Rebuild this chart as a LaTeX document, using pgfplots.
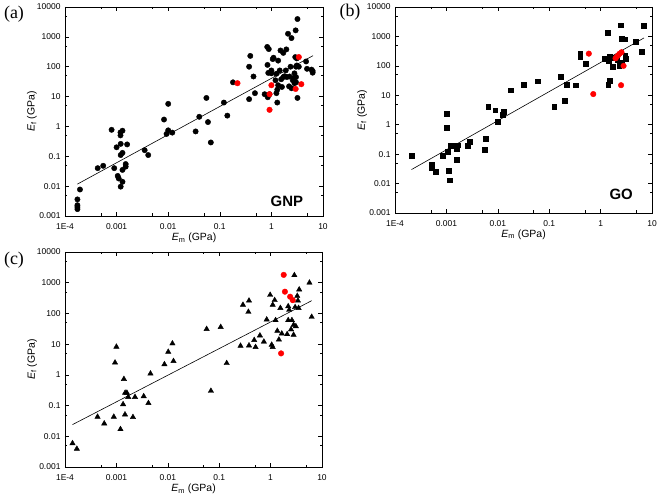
\documentclass[border=0pt]{standalone}
\usepackage{pgfplots}
\pgfplotsset{compat=1.18}
\usepackage{fontspec}
\setmainfont{Liberation Sans}
\newfontfamily\seriffont{Liberation Serif}
\pgfplotsset{
  mypanelstyle/.style={
    scale only axis,
    anchor=south west,
    xmin=1e-4, xmax=10, ymin=1e-3, ymax=1e4,
    xtick={1e-4,1e-3,1e-2,1e-1,1,10},
    xticklabels={1E-4,0.001,0.01,0.1,1,10},
    ytick={1e-3,1e-2,1e-1,1,10,100,1000,10000},
    yticklabels={0.001,0.01,0.1,1,10,100,1000,10000},
    minor xtick={5e-4,5e-3,5e-2,5e-1,5},
    minor ytick={5e-3,5e-2,5e-1,5,50,500,5000},
    tick align=inside, tick pos=both,
    major tick length=4bp, minor tick length=2.5bp,
    every tick/.style={black, line width=0.5pt},
    axis line style={line width=0.6pt},
    tick label style={font=\fontsize{8.5}{9}\selectfont},
    label style={font=\fontsize{10.5}{12}\selectfont},
    xlabel={\textit{E}\textsubscript{m} (GPa)},
    ylabel={\textit{E}\textsubscript{f} (GPa)},
    xticklabel style={yshift=-4bp},
    yticklabel style={xshift=-1bp},
    xlabel style={at={(axis description cs:0.5,-0.105)}, anchor=center},
    ylabel style={at={(axis description cs:-0.128,0.5)}, anchor=center},
  },
  myblk/.style={only marks, mark=*, mark size=2.7pt, mark options={fill=black, draw=black}},
  myred/.style={only marks, mark=*, mark size=2.8pt, mark options={fill=red, draw=red}},
}
\begin{document}
\begin{tikzpicture}
\path[use as bounding box] (0,0) rectangle (661bp,498bp);
% ---------------- (a) GNP
\begin{loglogaxis}[mypanelstyle, at={(65bp,282bp)}, width=258bp, height=209bp]
\addplot[myblk] coordinates {
(1.74e-4,0.0036) (1.74e-4,0.0023) (1.74e-4,0.0020) (1.74e-4,0.0017) (1.95e-4,0.0077)
(4.3e-4,0.040) (5.5e-4,0.048) (8e-4,0.77) (9e-4,0.040) (0.001,0.20) (0.00105,0.022)
(0.0011,0.018) (0.00119,0.63) (0.00119,0.5) (0.0012,0.26) (0.0012,0.11) (0.0013,0.014)
(0.0012,0.0096) (0.0013,0.13) (0.0013,0.72) (0.0013,0.035) (0.0015,0.055) (0.0015,0.045)
(0.0016,0.25) (0.0035,0.16) (0.0041,0.11) (0.0083,1.7) (0.0093,0.56) (0.0100,5.7)
(0.0100,0.74) (0.012,0.62) (0.034,0.68) (0.040,2.1) (0.055,9) (0.059,1.4) (0.067,0.29)
(0.12,6.3) (0.14,2.3) (0.18,30) (0.37,100) (0.37,8.2) (0.39,230) (0.45,47) (0.48,13)
(0.74,12) (0.83,460) (0.84,115) (0.85,9.5) (0.87,62) (0.89,390) (0.92,12) (1.0,75)
(1.0,60) (1.06,180) (1.1,200) (1.2,35) (1.25,58) (1.3,17) (1.3,6.3) (1.35,160) (1.35,24)
(1.45,75) (1.5,350) (1.55,38) (1.6,21) (1.7,290) (1.8,48) (1.9,75) (1.95,380) (2.1,1270)
(2.25,47) (2.35,100) (2.45,910) (2.45,19) (2.6,35) (2.8,60) (2.8,28) (2.9,210) (2.95,1650)
(3.0,45) (3.1,110) (3.2,9) (3.2,3950) (3.4,100) (4.7,150) (4.9,85) (6.0,80) (6.3,63)
(6.3,72) (2.2,22) (2.7,42) (1.25,13) (3.0,30) (2.0,45) (1.7,45) (3.1,190) (3.0,100)
};
\addplot[myred] coordinates {(0.22,28) (0.92,12) (0.92,3.6) (1.0,24) (2.95,18) (3.4,210) (3.8,26)};
\addplot[black, line width=0.6pt] coordinates {(1.74e-4,0.0117) (6.4,234)};
\node[font=\fontsize{15}{16}\selectfont\bfseries] at (rel axis cs:0.86,0.07) {GNP};
\end{loglogaxis}
% ---------------- (b) GO
\begin{loglogaxis}[mypanelstyle, at={(395bp,285bp)}, width=257bp, height=206bp]
\addplot[myblk, mark=square*, mark size=2.4pt] coordinates {
(2.1e-4,0.087) (5.2e-4,0.044) (5.2e-4,0.034) (6.3e-4,0.025) (8.5e-4,0.09) (0.001,2.4)
(0.001,0.78) (0.00105,0.12) (0.0011,0.027) (0.00114,0.013) (0.0012,0.19) (0.0016,0.065)
(0.0016,0.19) (0.0016,0.15) (0.0017,0.2) (0.0026,0.19) (0.0028,0.27) (0.0058,0.33)
(0.0056,0.14) (0.0065,4.2) (0.0089,3.1) (0.01,1.3) (0.0125,2.2) (0.0128,2.7) (0.018,15)
(0.032,23) (0.059,30) (0.125,4.2) (0.17,44) (0.20,6.4) (0.22,23) (0.33,22) (0.4,260)
(0.4,210) (0.52,120) (1.38,1300) (1.2,180) (1.4,23) (1.5,32) (1.5,210) (1.45,150)
(1.7,95) (1.9,190) (2.1,160) (2.3,100) (2.5,2400) (2.6,830) (2.6,125) (2.9,800)
(3.0,220) (3.1,180) (4.9,650) (6.2,300) (7.0,2250)
};
\addplot[myred] coordinates {(0.59,260) (0.72,11) (1.95,180) (2.05,200) (2.2,230) (2.35,260) (2.55,290) (2.8,100) (2.5,22)};
\addplot[black, line width=0.6pt] coordinates {(2.1e-4,0.030) (7.0,890)};
\node[font=\fontsize{15}{16}\selectfont\bfseries] at (rel axis cs:0.88,0.09) {GO};
\end{loglogaxis}
% ---------------- (c)
\begin{loglogaxis}[mypanelstyle, at={(65bp,31bp)}, width=257bp, height=215bp,
  xlabel style={at={(axis description cs:0.5,-0.102)}}]
\addplot[myblk, mark=triangle*, mark size=3.1pt] coordinates {
(1.4e-4,0.0059) (1.7e-4,0.0039) (4.3e-4,0.043) (5.8e-4,0.026) (8.9e-4,0.043) (9.4e-4,2.5)
(0.001,8.2) (0.0012,0.017) (0.00135,0.11) (0.0014,0.73) (0.00147,0.051) (0.00148,0.26)
(0.0016,0.26) (0.0017,0.19) (0.0021,0.042) (0.0023,0.19) (0.0034,0.2) (0.0042,0.12)
(0.0046,1.1) (0.0086,2.2) (0.0102,5.6) (0.0123,10.5) (0.0129,2.8) (0.057,31) (0.069,0.30)
(0.107,36) (0.14,2.4) (0.26,8.8) (0.29,190) (0.38,9) (0.37,112) (0.38,260) (0.48,13.5)
(0.51,8) (0.62,19) (0.74,12) (0.84,63) (0.98,400) (1.05,9.5) (1.1,8) (1.1,190) (1.2,270)
(1.25,60) (1.35,27) (1.45,14) (1.55,150) (1.65,22) (2.1,21) (2.2,170) (2.2,60) (2.3,130)
(2.5,30) (2.6,60) (2.8,20) (2.8,42) (2.9,1750) (3.0,160) (3.1,38) (3.3,370) (3.4,260)
(3.6,600) (3.5,150) (5.7,1000) (6.3,77)
};
\addplot[myred] coordinates {(1.8,1800) (1.9,510) (2.4,350) (2.7,270) (1.6,5.0)};
\addplot[black, line width=0.6pt] coordinates {(1.4e-4,0.024) (6.3,260)};
\end{loglogaxis}
\node[font=\seriffont\fontsize{18}{19}\selectfont] at (14bp,484bp) {(a)};
\node[font=\seriffont\fontsize{18}{19}\selectfont] at (350bp,486bp) {(b)};
\node[font=\seriffont\fontsize{18}{19}\selectfont] at (14bp,238bp) {(c)};
\end{tikzpicture}
\end{document}
